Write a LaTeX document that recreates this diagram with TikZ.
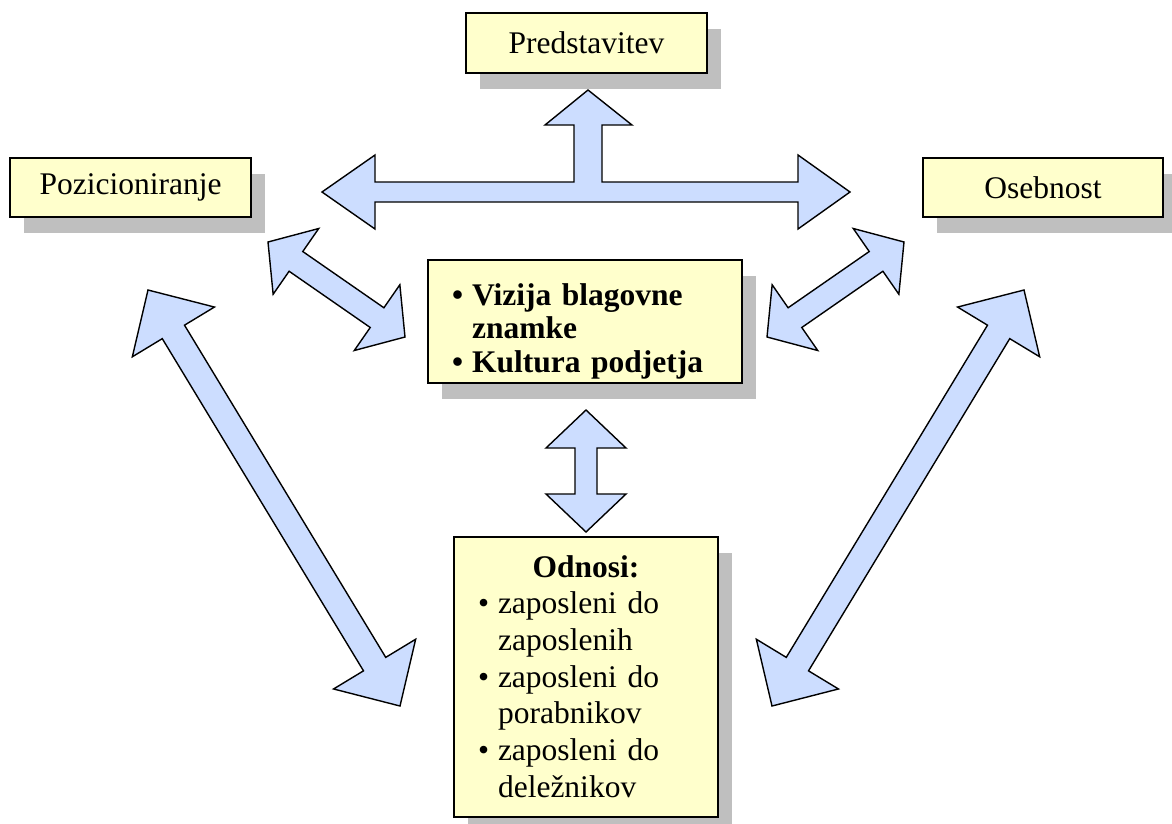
\documentclass[tikz,border=0pt]{standalone}
\usepackage{fontspec}
\setmainfont{Liberation Serif}
\usetikzlibrary{calc,shadows}
\definecolor{BoxFill}{HTML}{FFFFCC}
\definecolor{ArrowFill}{HTML}{CCDDFF}
\definecolor{Shade}{HTML}{BFBFBF}
\tikzset{
  labelbox/.style={
    draw=black, line width=1.8pt, fill=BoxFill, inner sep=0pt,
    general shadow={fill=Shade, shadow xshift=14pt, shadow yshift=-16pt},
    font=\fontsize{31.5}{36}\selectfont
  },
  listbox/.style={
    labelbox, inner xsep=24pt, inner ysep=0pt, align=left
  },
  blockarrow/.style={draw=black, line width=1.4pt, fill=ArrowFill, line join=miter}
}
% tip, tip, half shaft, half head, head length
\newcommand{\dblarrow}[5]{%
  \draw[blockarrow] (#1)
    -- ($(#1)!#5!(#2)!#4!90:(#2)$) -- ($(#1)!#5!(#2)!#3!90:(#2)$)
    -- ($(#2)!#5!(#1)!#3!-90:(#1)$) -- ($(#2)!#5!(#1)!#4!-90:(#1)$)
    -- (#2)
    -- ($(#2)!#5!(#1)!#4!90:(#1)$) -- ($(#2)!#5!(#1)!#3!90:(#1)$)
    -- ($(#1)!#5!(#2)!#3!-90:(#2)$) -- ($(#1)!#5!(#2)!#4!-90:(#2)$)
    -- cycle;}
\begin{document}
\begin{tikzpicture}[x=1pt,y=-1pt]
    \useasboundingbox (0,0) rectangle (1172,823);
    % boxes
    \node[labelbox,minimum width=241pt,minimum height=60pt] (pred) at (586.5,43) {Predstavitev};
    \node[labelbox,minimum width=241pt,minimum height=59pt] (poz) at (130.5,187.5) {Pozicioniranje};
    \node[labelbox,minimum width=240pt,minimum height=59pt] (oseb) at (1043,187.5) {Osebnost};
    \node[listbox,text width=266pt,text height=45pt,text depth=78pt,
      font=\bfseries\fontsize{31.5}{33.5}\selectfont] (viz) at (585,321.5)
      {\begin{tabular}[t]{@{}l@{\hspace{9pt}}l@{}}
        \textbullet & Vizija blagovne\\
         & znamke\\
        \textbullet & Kultura podjetja
      \end{tabular}};
    \node[listbox,text width=216pt,text height=40pt,text depth=240pt,
      font=\fontsize{31.5}{36.7}\selectfont] (odn) at (586,677)
      {\begin{tabular}[t]{@{}l@{\hspace{9pt}}l@{}}
        \multicolumn{2}{@{}c@{}}{\makebox[216pt]{\textbf{Odnosi:}}}\\
        \textbullet & zaposleni do\\
         & zaposlenih\\
        \textbullet & zaposleni do\\
         & porabnikov\\
        \textbullet & zaposleni do\\
         & deležnikov
      \end{tabular}};
    % arrow ends
    \coordinate (pred-in) at (588,90);
    \coordinate (poz-in) at (322,192);
    \coordinate (oseb-in) at (850,192);
    \coordinate (poz-a) at (268,242);
    \coordinate (viz-a) at (405,337);
    \coordinate (oseb-a) at (904,242);
    \coordinate (viz-b) at (767,337);
    \coordinate (poz-b) at (148,290);
    \coordinate (odn-a) at (400,706);
    \coordinate (oseb-b) at (1024,290);
    \coordinate (odn-b) at (772,706);
    \coordinate (viz-c) at (586,410);
    \coordinate (odn-c) at (586,532);
    % arrows
    \draw[blockarrow] (poz-in) -- ++(53,-37) -- ++(0,27) -- ++(199,0) -- ++(0,-57)
      -- ++(-29,0) -- (pred-in) -- ++(44,35) -- ++(-30,0) -- ++(0,57) -- ++(196,0)
      -- ++(0,-27) -- (oseb-in) -- ++(-52,37) -- ++(0,-27) -- ++(-423,0) -- ++(0,27) -- cycle;
    \dblarrow{poz-a}{viz-a}{12pt}{40pt}{34pt}
    \dblarrow{oseb-a}{viz-b}{12pt}{40pt}{34pt}
    \dblarrow{poz-b}{odn-a}{13pt}{48pt}{49pt}
    \dblarrow{oseb-b}{odn-b}{13pt}{48pt}{49pt}
    \dblarrow{viz-c}{odn-c}{11pt}{40pt}{38pt}
\end{tikzpicture}
\end{document}
